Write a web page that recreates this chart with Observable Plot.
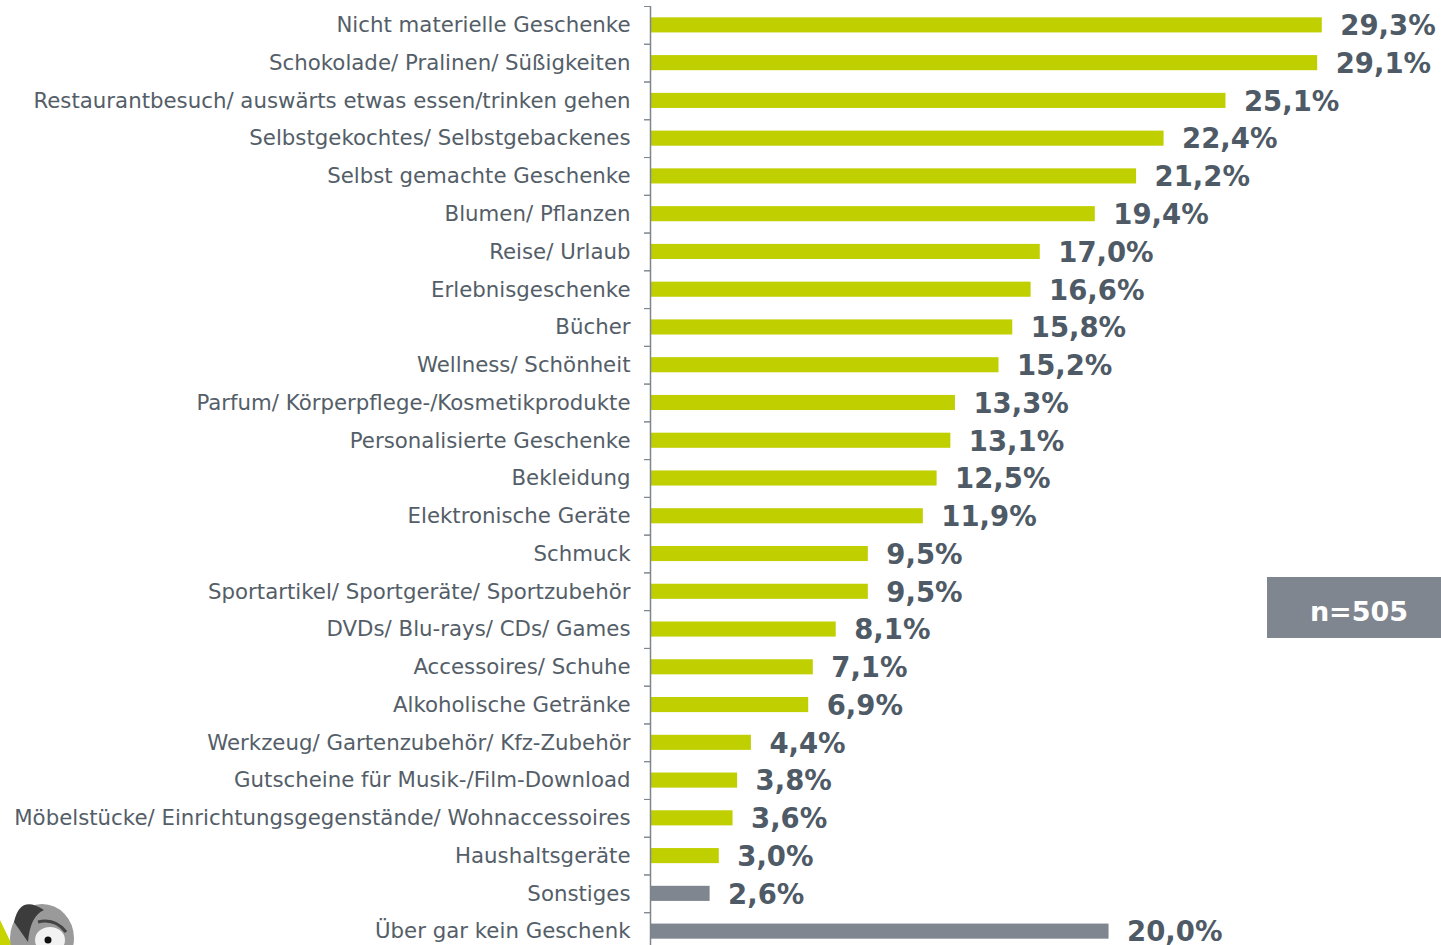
<!DOCTYPE html>
<html>
<head>
<meta charset="utf-8">
<script src="https://cdn.jsdelivr.net/npm/d3@7"></script>
<script src="https://cdn.jsdelivr.net/npm/@observablehq/plot@0.6"></script>
<style>
  html, body { margin: 0; padding: 0; background: #fff; overflow: hidden; }
  #wrap { position: relative; width: 1441px; height: 945px; overflow: hidden; }
  #nbox { position: absolute; left: 1267px; top: 577px; width: 174px; height: 61px;
    box-sizing: border-box; padding: 8px 0 0 10px;
    background: #7f868f; color: #fff; font: bold 27px "DejaVu Sans", Verdana, sans-serif;
    display: flex; align-items: center; justify-content: center; }
  #mascot { position: absolute; left: 0; top: 880px; }
</style>
</head>
<body>
<div id="wrap">
  <div id="chart"></div>
  <div id="nbox">n=505</div>
  <svg id="mascot" width="90" height="65" viewBox="0 0 90 65">
    <path d="M0 40 L12 65 L0 65 Z" fill="#c8d400"/>
    <ellipse cx="42" cy="58" rx="32" ry="34" fill="#9a9a9a"/>
    <path d="M14 42 Q20 14 44 30 Q30 36 28 62 Z" fill="#3c3c3c"/>
    <ellipse cx="50" cy="60" rx="15" ry="13" fill="#f2f2f2"/>
    <circle cx="48" cy="60" r="3.5" fill="#111"/>
    <path d="M38 42 Q55 38 66 52" stroke="#444" stroke-width="3" fill="none"/>
  </svg>
</div>
<script>
const categories = [
  "Nicht materielle Geschenke",
  "Schokolade/ Pralinen/ Süßigkeiten",
  "Restaurantbesuch/ auswärts etwas essen/trinken gehen",
  "Selbstgekochtes/ Selbstgebackenes",
  "Selbst gemachte Geschenke",
  "Blumen/ Pflanzen",
  "Reise/ Urlaub",
  "Erlebnisgeschenke",
  "Bücher",
  "Wellness/ Schönheit",
  "Parfum/ Körperpflege-/Kosmetikprodukte",
  "Personalisierte Geschenke",
  "Bekleidung",
  "Elektronische Geräte",
  "Schmuck",
  "Sportartikel/ Sportgeräte/ Sportzubehör",
  "DVDs/ Blu-rays/ CDs/ Games",
  "Accessoires/ Schuhe",
  "Alkoholische Getränke",
  "Werkzeug/ Gartenzubehör/ Kfz-Zubehör",
  "Gutscheine für Musik-/Film-Download",
  "Möbelstücke/ Einrichtungsgegenstände/ Wohnaccessoires",
  "Haushaltsgeräte",
  "Sonstiges",
  "Über gar kein Geschenk"
];
const values = [29.3, 29.1, 25.1, 22.4, 21.2, 19.4, 17.0, 16.6, 15.8, 15.2, 13.3, 13.1, 12.5, 11.9, 9.5, 9.5, 8.1, 7.1, 6.9, 4.4, 3.8, 3.6, 3.0, 2.6, 20.0];
const groups = categories.map((c, i) => i < 23 ? "Geschenk" : "Andere");

const data = categories.map((c, i) => ({category: c, value: values[i], group: groups[i]}));

const width = 1441, height = 950, marginTop = 6, marginBottom = 0, marginLeft = 650;
const step = (height - marginTop - marginBottom) / categories.length;
const fmt = v => d3.format(".1f")(v).replace(".", ",") + "%";
const font = '"DejaVu Sans", Verdana, sans-serif';

const chart = Plot.plot({
  width, height, marginTop, marginBottom, marginLeft, marginRight: 0,
  style: {fontFamily: font, background: "transparent"},
  x: {domain: [0, 34.5], axis: null},
  y: {domain: categories, paddingInner: 0.6, paddingOuter: 0.3, round: false, label: null},
  color: {domain: ["Geschenk", "Andere"], range: ["#c0cf00", "#7f868f"]},
  marks: [
    Plot.barX(data, {x: "value", y: "category", fill: "group"}),
    Plot.text(data, {x: "value", y: "category", text: d => fmt(d.value), textAnchor: "start", dx: 18, dy: 1,
      fill: "#4e5a66", fontSize: 27.5, fontWeight: "bold"}),
    Plot.axisY({tickSize: 0, tickPadding: 20, fontSize: 21.3, fill: "#545e68", label: null}),
    Plot.axisY({tickSize: 6, tickFormat: null, dy: step / 2, stroke: "#7e858d", label: null}),
    Plot.axisY({tickSize: 6, tickFormat: null, dy: -step / 2, stroke: "#7e858d", label: null}),
    Plot.ruleX([0], {stroke: "#7e858d", strokeWidth: 1.5})
  ]
});
document.getElementById("chart").appendChild(chart);
</script>
</body>
</html>
